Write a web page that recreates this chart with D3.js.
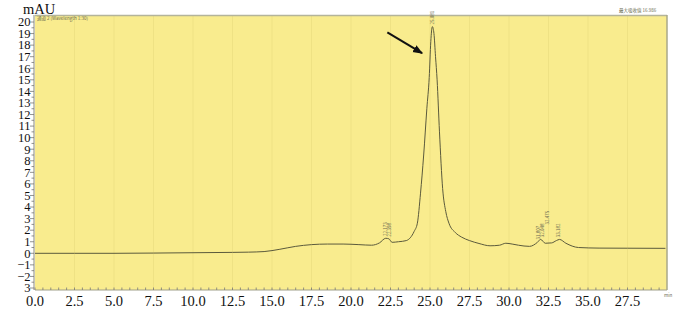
<!DOCTYPE html>
<html lang="zh">
<head>
<meta charset="UTF-8">
<title>Chromatogram</title>
<script src="https://d3js.org/d3.v7.min.js"></script>
<style>
  body { margin: 0; background: #fff; }
  svg { display: block; }
  .lbl { font-family: "Liberation Serif", "DejaVu Serif", serif; font-size: 14.5px; fill: #111; }
  .ylbl { font-family: "Liberation Serif", "DejaVu Serif", serif; font-size: 12.5px; fill: #111; }
  .tiny { font-family: "Noto Sans CJK SC", "DejaVu Sans", sans-serif; font-size: 4.5px; fill: #6a6a50; }
</style>
</head>
<body>
<div id="chart"></div>
<script>
// retention time (min) and signal (mAU)
const times = [0, 2.5, 5, 7.5, 10, 12.5, 13.5, 14.5, 15.5, 16.5, 17.5, 18.5, 19.5, 20.5, 21.3, 21.8, 22.2, 22.4, 22.6, 23.0, 23.5, 24.0, 24.2, 24.4, 24.6, 24.8, 24.95, 25.05, 25.15, 25.25, 25.35, 25.45, 25.6, 25.8, 26.0, 26.2, 26.6, 27.0, 27.5, 28.1, 28.8, 29.4, 29.8, 30.2, 30.6, 31.3, 31.8, 32.0, 32.3, 32.7, 33.0, 33.2, 33.6, 34.4, 35.7, 37.5, 39.9];
const signal = [0.0, 0.0, 0.0, 0.02, 0.05, 0.08, 0.1, 0.15, 0.35, 0.6, 0.75, 0.8, 0.8, 0.75, 0.7, 0.9, 1.3, 1.25, 0.95, 1.0, 1.1, 1.9, 2.6, 5.2, 8.5, 12.5, 15.2, 18.3, 19.6, 19.0, 17.0, 15.0, 10.5, 5.6, 3.6, 2.6, 1.8, 1.4, 1.1, 0.85, 0.65, 0.7, 0.87, 0.8, 0.7, 0.6, 0.95, 1.2, 0.87, 0.9, 1.1, 1.2, 0.87, 0.5, 0.45, 0.44, 0.43];

const xTicks = [0, 2.5, 5, 7.5, 10, 12.5, 15, 17.5, 20, 22.5, 25, 27.5, 30, 32.5, 35, 37.5];
const xTickLabels = ["0.0", "2.5", "5.0", "7.5", "10.0", "12.5", "15.0", "17.5", "20.0", "22.5", "25.0", "27.5", "30.0", "32.5", "35.0", "27.5"];
const yTicks = d3.range(-3, 21);
const yTickLabels = yTicks.map(d => d === -3 ? "3" : (d < 0 ? "\u2212" + (-d) : String(d)));

// small peak annotations: [time, signal at label foot, text]
const peakTimes = [22.2, 22.45, 25.15, 31.85, 32.15, 32.45, 33.15];
const peakBase = [1.4, 1.35, 19.7, 1.1, 1.3, 2.4, 1.3];
const peakTexts = ["22.173", "22.398", "25.081", "31.807", "32.048", "32.475", "33.182"];

const W = 689, H = 313;
const plot = { left: 35, right: 667, top: 15, bottom: 290 };

const svg = d3.select("#chart").append("svg")
    .attr("width", W).attr("height", H);

const x = d3.scaleLinear().domain([0, 40]).range([35, 667]);
const y = d3.scaleLinear().domain([-3, 20]).range([288, 22]);

// plot background
svg.append("rect")
    .attr("x", plot.left).attr("y", plot.top)
    .attr("width", plot.right - plot.left).attr("height", plot.bottom - plot.top)
    .attr("fill", "#f9ec8e");

// faint grid
svg.append("g").selectAll("line")
    .data(xTicks.slice(1))
    .join("line")
    .attr("x1", d => x(d)).attr("x2", d => x(d))
    .attr("y1", plot.top).attr("y2", plot.bottom)
    .attr("stroke", "#efe284").attr("stroke-width", 1);

// frame lines top/right
svg.append("line")
    .attr("x1", plot.left).attr("x2", plot.right)
    .attr("y1", plot.top + 0.5).attr("y2", plot.top + 0.5)
    .attr("stroke", "#b4b49a").attr("stroke-width", 1.5);
svg.append("line")
    .attr("x1", plot.right).attr("x2", plot.right)
    .attr("y1", plot.top).attr("y2", plot.bottom)
    .attr("stroke", "#a9a98a").attr("stroke-width", 1.5);

// y axis ruler
const yMinor = d3.range(-3, 20.01, 0.5);
svg.append("line")
    .attr("x1", 34).attr("x2", 34).attr("y1", plot.top).attr("y2", plot.bottom)
    .attr("stroke", "#8a8a78").attr("stroke-width", 1);
svg.append("g").selectAll("line")
    .data(yMinor)
    .join("line")
    .attr("x1", d => Number.isInteger(d) ? 30 : 31.5).attr("x2", 34)
    .attr("y1", d => y(d)).attr("y2", d => y(d))
    .attr("stroke", "#777").attr("stroke-width", 0.8);

svg.append("g").selectAll("text")
    .data(yTicks)
    .join("text")
    .attr("class", "ylbl")
    .attr("x", 30.5).attr("y", d => y(d) + 4.3)
    .attr("text-anchor", "end")
    .text((d, i) => yTickLabels[i]);

svg.append("text").attr("class", "lbl")
    .attr("x", 39).attr("y", 14)
    .attr("text-anchor", "middle")
    .text("mAU");

// x axis ruler
const xMinor = d3.range(0, 39.9, 0.5);
svg.append("line")
    .attr("x1", plot.left).attr("x2", plot.right).attr("y1", plot.bottom).attr("y2", plot.bottom)
    .attr("stroke", "#a0a08a").attr("stroke-width", 1);
svg.append("g").selectAll("line")
    .data(xMinor)
    .join("line")
    .attr("x1", d => x(d)).attr("x2", d => x(d))
    .attr("y1", plot.bottom - 2.5).attr("y2", plot.bottom)
    .attr("stroke", "#777").attr("stroke-width", 0.8);

svg.append("g").selectAll("text")
    .data(xTicks)
    .join("text")
    .attr("class", "lbl")
    .attr("x", d => x(d)).attr("y", 306)
    .attr("text-anchor", "middle")
    .text((d, i) => xTickLabels[i]);

svg.append("text").attr("class", "tiny")
    .attr("x", 664).attr("y", 297).text("min");

// header texts
svg.append("text").attr("class", "tiny")
    .attr("x", 37).attr("y", 19.5)
    .text("通道 2 (Wavelength 1:30)");
svg.append("text").attr("class", "tiny")
    .attr("x", 619).attr("y", 12)
    .text("最大吸收值  16.986");

// trace
const pts = times.map((t, i) => [t, signal[i]]);
const line = d3.line()
    .x(d => x(d[0]))
    .y(d => y(d[1]))
    .curve(d3.curveMonotoneX);

svg.append("path")
    .datum(pts)
    .attr("fill", "none")
    .attr("stroke", "#5b5a3c")
    .attr("stroke-width", 1)
    .attr("d", line);

// peak labels
svg.append("g").selectAll("text")
    .data(peakTimes)
    .join("text")
    .attr("class", "tiny")
    .attr("transform", (d, i) => `translate(${x(d) + 1.5},${y(peakBase[i]) - 1}) rotate(-90)`)
    .text((d, i) => peakTexts[i]);

// arrow pointing at main peak
const arrowFrom = [22.3, 19.1];
const arrowTo = [24.5, 17.3];
svg.append("defs").append("marker")
    .attr("id", "head")
    .attr("viewBox", "0 0 10 10")
    .attr("refX", 9).attr("refY", 5)
    .attr("markerWidth", 5).attr("markerHeight", 5)
    .attr("orient", "auto")
    .append("path").attr("d", "M0,1 L10,5 L0,9 Z").attr("fill", "#111");
svg.append("line")
    .attr("x1", x(arrowFrom[0])).attr("y1", y(arrowFrom[1]))
    .attr("x2", x(arrowTo[0])).attr("y2", y(arrowTo[1]))
    .attr("stroke", "#111").attr("stroke-width", 2)
    .attr("marker-end", "url(#head)");
</script>
</body>
</html>
